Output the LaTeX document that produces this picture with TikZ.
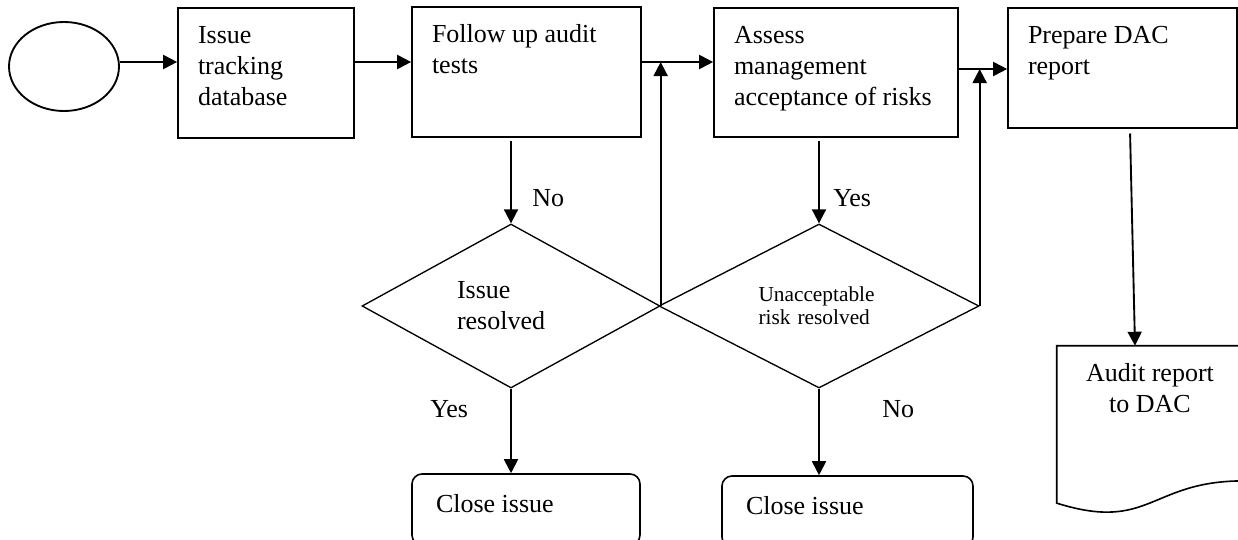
\documentclass[tikz,border=0pt]{standalone}
\usepackage{fontspec}
\setmainfont{Liberation Serif}
\usetikzlibrary{arrows.meta,shapes.geometric,calc}
% fixed-size text block: width, height, height of the first line, lines
\newcommand\boxlines[4]{\parbox[c][#2][t]{#1}{\raggedright\rule{0pt}{#3}#4}}
\begin{document}
\begin{tikzpicture}[x=0.75pt,y=-0.75pt,
  font=\fontsize{19.5}{23.25}\selectfont,
  procbox/.style={draw,line width=1.25pt,inner xsep=15pt,inner ysep=0pt},
  endbox/.style={draw,line width=1.2pt,rounded corners=7.5pt,inner xsep=18pt,inner ysep=0pt},
  decide/.style={draw,diamond,line width=1pt,aspect=1.8,inner sep=0pt,align=left},
  arr/.style={line width=1.4pt,-{Triangle[length=10.5pt,width=10.5pt]}},
  lbl/.style={inner sep=0pt,anchor=west}]
\clip (0,0) rectangle (1238,539);

% start terminal and process steps
\node[draw,ellipse,line width=1.4pt,minimum width=82.5pt,minimum height=66.75pt,inner sep=0pt] (start) at (64,66.5) {};
\node[procbox] (track) at (266,73) {\boxlines{102pt}{97.5pt}{26.25pt}{Issue\\tracking\\database}};
\node[procbox] (follow) at (526.5,72) {\boxlines{141.75pt}{97.5pt}{26.25pt}{Follow up audit\\tests}};
\node[procbox] (assess) at (836,72.5) {\boxlines{153pt}{96.75pt}{26.25pt}{Assess\\management\\acceptance of risks}};
\node[procbox] (prepare) at (1122.5,68) {\boxlines{141.75pt}{90pt}{26.25pt}{Prepare DAC\\report}};

% decisions
\node[decide,minimum width=223.5pt,minimum height=123pt,text width=81pt] (resolved) at (511,306) {Issue\\resolved};
\node[decide,minimum width=240pt,minimum height=123pt,text width=90.75pt,font=\fontsize{16}{17.5}\selectfont] (risk) at (819,306) {Unacceptable\\risk resolved\\[6pt]};

% end steps
\node[endbox] (close1) at (526,509.5) {\boxlines{135pt}{53.25pt}{28.5pt}{Close issue}};
\node[endbox] (close2) at (847.5,511.5) {\boxlines{152.25pt}{53.25pt}{28.5pt}{Close issue}};

% document with a wavy lower edge
\node[inner sep=0pt] (report) at (1150,430) {\parbox[c][126pt][t]{139.5pt}{\centering\rule{0pt}{26.25pt}Audit report\\to DAC}};
\draw[line width=1.2pt] (report.north west) -- (report.north east)
  -- ($(report.north east)!0.802!(report.south east)$)
  .. controls ($(report.north)!0.802!(report.south)$) and ($(report.north)!1.1075!(report.south)$)
  .. ($(report.north west)!0.934!(report.south west)$) -- cycle;

% connector levels
\coordinate (rowA) at (0,62);
\coordinate (rowB) at (0,69);

\draw[arr] (start.east |- rowA) -- (track.west |- rowA);
\draw[arr] (track.east |- rowA) -- (follow.west |- rowA);
\draw[arr] (follow.east |- rowA) -- (assess.west |- rowA);
\draw[arr] (assess.east |- rowB) -- (prepare.west |- rowB);
\draw[arr] (resolved.east) -- (resolved.east |- rowA);
\draw[arr] (risk.east) -- (risk.east |- rowB);
\draw[arr,shorten <=2.25pt] (resolved.north |- follow.south) -- (resolved.north);
\draw[arr,shorten <=2.25pt] (risk.north |- assess.south) -- (risk.north);
\draw[arr] (resolved.south) -- (resolved.south |- close1.north);
\draw[arr] (risk.south) -- (risk.south |- close2.north);
\draw[arr,shorten <=3.5pt] ([xshift=5.6pt]prepare.south) -- ([xshift=-11.25pt]report.north);

% branch labels
\node[lbl] (no1) at (532,198) {No};
\node[lbl] (yes1) at (833,198) {Yes};
\node[lbl] (yes2) at (430,409) {Yes};
\node[lbl] (no2) at (882,409) {No};
\end{tikzpicture}
\end{document}
